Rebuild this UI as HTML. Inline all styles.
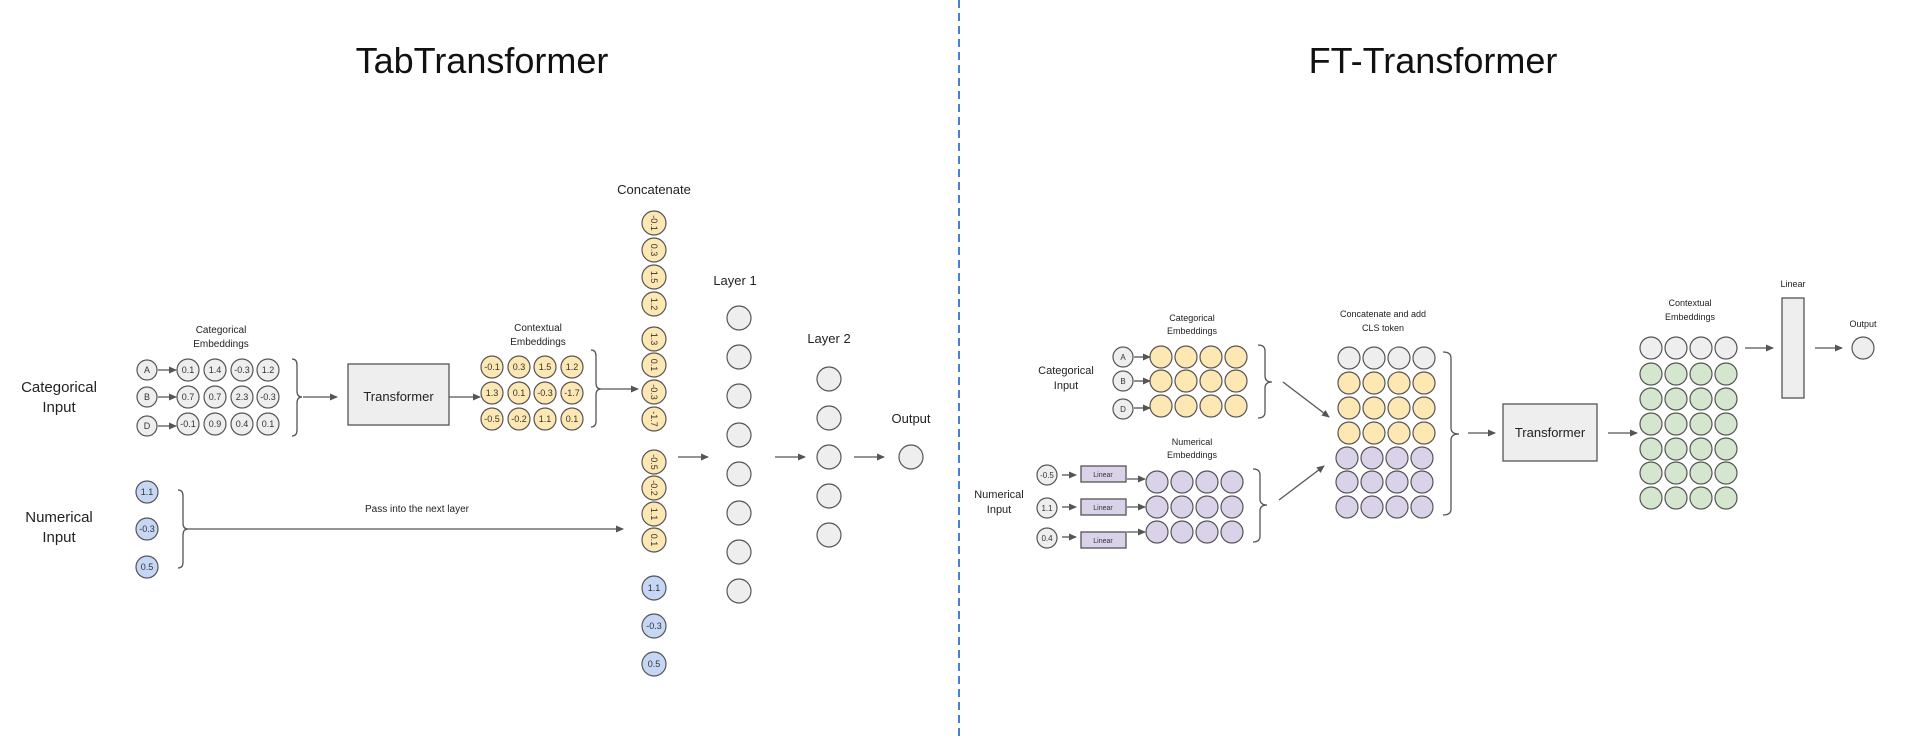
<!DOCTYPE html>
<html><head><meta charset="utf-8"><style>
html,body{margin:0;padding:0;background:#fff;}
svg{display:block;font-family:"Liberation Sans",sans-serif;}
</style></head><body>
<svg width="1916" height="738" viewBox="0 0 1916 738" xmlns="http://www.w3.org/2000/svg">
<defs>
<marker id="ah" markerWidth="8" markerHeight="8" refX="7" refY="4" orient="auto" markerUnits="userSpaceOnUse">
<path d="M0,0.5 L8,4 L0,7.5 z" fill="#555"/></marker>
</defs>
<g fill="#111" text-anchor="middle">
<text x="482" y="73" font-size="36">TabTransformer</text>
<text x="1433" y="73" font-size="36">FT-Transformer</text>
</g>
<line x1="959" y1="0" x2="959" y2="738" stroke="#4a7fd6" stroke-width="2" stroke-dasharray="8,5"/>

<g stroke="#555" stroke-width="1.3" fill="none">
<path d="M292,359 Q297,359 297,365 L297,391 Q297,397 302,397 Q297,397 297,403 L297,430 Q297,436 292,436"/>
<path d="M591,350 Q596,350 596,356 L596,383 Q596,389 601,389 Q596,389 596,395 L596,421 Q596,427 591,427"/>
<path d="M178,490 Q183,490 183,496 L183,523 Q183,529 188,529 Q183,529 183,535 L183,562 Q183,568 178,568"/>
<path d="M1258,345 Q1265,345 1265,351 L1265,376 Q1265,382 1272,382 Q1265,382 1265,388 L1265,412 Q1265,418 1258,418"/>
<path d="M1253,469 Q1260,469 1260,475 L1260,499 Q1260,505 1267,505 Q1260,505 1260,511 L1260,536 Q1260,542 1253,542"/>
<path d="M1443,352 Q1451,352 1451,358 L1451,428 Q1451,434 1459,434 Q1451,434 1451,440 L1451,509 Q1451,515 1443,515"/>
</g>

<g stroke="#555" stroke-width="1.3" marker-end="url(#ah)">
<line x1="158" y1="370" x2="176" y2="370"/>
<line x1="158" y1="397" x2="176" y2="397"/>
<line x1="158" y1="426" x2="176" y2="426"/>
<line x1="303" y1="397" x2="337" y2="397"/>
<line x1="449" y1="397" x2="480" y2="397"/>
<line x1="601" y1="389" x2="638" y2="389"/>
<line x1="188" y1="529" x2="623" y2="529"/>
<line x1="678" y1="457" x2="708" y2="457"/>
<line x1="775" y1="457" x2="805" y2="457"/>
<line x1="854" y1="457" x2="884" y2="457"/>
<line x1="1134" y1="357" x2="1150" y2="357"/>
<line x1="1134" y1="381" x2="1150" y2="381"/>
<line x1="1134" y1="408" x2="1150" y2="408"/>
<line x1="1283" y1="382" x2="1329" y2="417"/>
<line x1="1279" y1="500" x2="1324" y2="466"/>
<line x1="1062" y1="475" x2="1076" y2="475"/>
<line x1="1062" y1="507" x2="1076" y2="507"/>
<line x1="1062" y1="537" x2="1076" y2="537"/>
<line x1="1127" y1="479" x2="1145" y2="479"/>
<line x1="1127" y1="507" x2="1145" y2="507"/>
<line x1="1127" y1="532" x2="1145" y2="532"/>
<line x1="1468" y1="433" x2="1495" y2="433"/>
<line x1="1608" y1="433" x2="1637" y2="433"/>
<line x1="1745" y1="348" x2="1773" y2="348"/>
<line x1="1815" y1="348" x2="1842" y2="348"/>
</g>

<!-- boxes -->
<rect x="348" y="364" width="101" height="61" fill="#eeeeee" stroke="#555" stroke-width="1.3"/>
<rect x="1503" y="404" width="94" height="57" fill="#eeeeee" stroke="#555" stroke-width="1.3"/>
<rect x="1782" y="298" width="22" height="100" fill="#eeeeee" stroke="#555" stroke-width="1.3"/>
<g fill="#d9d2e9" stroke="#555" stroke-width="1.3">
<rect x="1081" y="466" width="45" height="16"/>
<rect x="1081" y="499" width="45" height="16"/>
<rect x="1081" y="532" width="45" height="16"/>
</g>

<g fill="#222" text-anchor="middle">
<text x="59" y="392" font-size="15">Categorical</text>
<text x="59" y="412" font-size="15">Input</text>
<text x="59" y="522" font-size="15">Numerical</text>
<text x="59" y="542" font-size="15">Input</text>
<text x="221" y="333" font-size="10">Categorical</text>
<text x="221" y="347" font-size="10">Embeddings</text>
<text x="538" y="331" font-size="10">Contextual</text>
<text x="538" y="345" font-size="10">Embeddings</text>
<text x="417" y="512" font-size="10">Pass into the next layer</text>
<text x="654" y="194" font-size="13">Concatenate</text>
<text x="735" y="285" font-size="13">Layer 1</text>
<text x="829" y="343" font-size="13">Layer 2</text>
<text x="911" y="423" font-size="13">Output</text>
<text x="398.5" y="401" font-size="13">Transformer</text>
<text x="1550" y="437" font-size="13">Transformer</text>

<text x="1066" y="374" font-size="11">Categorical</text>
<text x="1066" y="389" font-size="11">Input</text>
<text x="999" y="498" font-size="11">Numerical</text>
<text x="999" y="513" font-size="11">Input</text>
<text x="1192" y="321" font-size="9">Categorical</text>
<text x="1192" y="334" font-size="9">Embeddings</text>
<text x="1192" y="445" font-size="9">Numerical</text>
<text x="1192" y="458" font-size="9">Embeddings</text>
<text x="1383" y="317" font-size="9">Concatenate and add</text>
<text x="1383" y="331" font-size="9">CLS token</text>
<text x="1690" y="306" font-size="9">Contextual</text>
<text x="1690" y="320" font-size="9">Embeddings</text>
<text x="1793" y="287" font-size="9">Linear</text>
<text x="1863" y="327" font-size="9">Output</text>
</g>
<g fill="#333" font-size="7" text-anchor="middle">
<text x="1103" y="477">Linear</text><text x="1103" y="510">Linear</text><text x="1103" y="543">Linear</text>
</g>

<g stroke="#555" stroke-width="1.2">
<g fill="#eeeeee">
<circle cx="147" cy="370" r="10"/><circle cx="147" cy="397" r="10"/><circle cx="147" cy="426" r="10"/>
<circle cx="188" cy="370" r="11"/><circle cx="215" cy="370" r="11"/><circle cx="242" cy="370" r="11"/><circle cx="268" cy="370" r="11"/>
<circle cx="188" cy="397" r="11"/><circle cx="215" cy="397" r="11"/><circle cx="242" cy="397" r="11"/><circle cx="268" cy="397" r="11"/>
<circle cx="188" cy="424" r="11"/><circle cx="215" cy="424" r="11"/><circle cx="242" cy="424" r="11"/><circle cx="268" cy="424" r="11"/>
<circle cx="739" cy="318" r="12"/><circle cx="739" cy="357" r="12"/><circle cx="739" cy="396" r="12"/><circle cx="739" cy="435" r="12"/>
<circle cx="739" cy="474" r="12"/><circle cx="739" cy="513" r="12"/><circle cx="739" cy="552" r="12"/><circle cx="739" cy="591" r="12"/>
<circle cx="829" cy="379" r="12"/><circle cx="829" cy="418" r="12"/><circle cx="829" cy="457" r="12"/><circle cx="829" cy="496" r="12"/><circle cx="829" cy="535" r="12"/>
<circle cx="911" cy="457" r="12"/>
</g>
<g fill="#fde8b3">
<circle cx="492" cy="367" r="11"/><circle cx="519" cy="367" r="11"/><circle cx="545" cy="367" r="11"/><circle cx="572" cy="367" r="11"/>
<circle cx="492" cy="393" r="11"/><circle cx="519" cy="393" r="11"/><circle cx="545" cy="393" r="11"/><circle cx="572" cy="393" r="11"/>
<circle cx="492" cy="419" r="11"/><circle cx="519" cy="419" r="11"/><circle cx="545" cy="419" r="11"/><circle cx="572" cy="419" r="11"/>
<circle cx="654" cy="223" r="12"/><circle cx="654" cy="250" r="12"/><circle cx="654" cy="277" r="12"/><circle cx="654" cy="304" r="12"/>
<circle cx="654" cy="339" r="12"/><circle cx="654" cy="365" r="12"/><circle cx="654" cy="392" r="12"/><circle cx="654" cy="419" r="12"/>
<circle cx="654" cy="462" r="12"/><circle cx="654" cy="488" r="12"/><circle cx="654" cy="514" r="12"/><circle cx="654" cy="540" r="12"/>
</g>
<g fill="#c5d7f5">
<circle cx="147" cy="492" r="11"/><circle cx="147" cy="529" r="11"/><circle cx="147" cy="567" r="11"/>
<circle cx="654" cy="588" r="12"/><circle cx="654" cy="626" r="12"/><circle cx="654" cy="664" r="12"/>
</g>
</g>
<g fill="#333" font-size="9" text-anchor="middle">
<text x="147" y="373">A</text><text x="147" y="400">B</text><text x="147" y="429">D</text>
<text x="188" y="373">0.1</text><text x="215" y="373">1.4</text><text x="242" y="373">-0.3</text><text x="268" y="373">1.2</text>
<text x="188" y="400">0.7</text><text x="215" y="400">0.7</text><text x="242" y="400">2.3</text><text x="268" y="400">-0.3</text>
<text x="188" y="427">-0.1</text><text x="215" y="427">0.9</text><text x="242" y="427">0.4</text><text x="268" y="427">0.1</text>
<text x="492" y="370">-0.1</text><text x="519" y="370">0.3</text><text x="545" y="370">1.5</text><text x="572" y="370">1.2</text>
<text x="492" y="396">1.3</text><text x="519" y="396">0.1</text><text x="545" y="396">-0.3</text><text x="572" y="396">-1.7</text>
<text x="492" y="422">-0.5</text><text x="519" y="422">-0.2</text><text x="545" y="422">1.1</text><text x="572" y="422">0.1</text>
<text x="147" y="495">1.1</text><text x="147" y="532">-0.3</text><text x="147" y="570">0.5</text>
<text x="654" y="591">1.1</text><text x="654" y="629">-0.3</text><text x="654" y="667">0.5</text>
<text transform="translate(651,223) rotate(90)">-0.1</text>
<text transform="translate(651,250) rotate(90)">0.3</text>
<text transform="translate(651,277) rotate(90)">1.5</text>
<text transform="translate(651,304) rotate(90)">1.2</text>
<text transform="translate(651,339) rotate(90)">1.3</text>
<text transform="translate(651,365) rotate(90)">0.1</text>
<text transform="translate(651,392) rotate(90)">-0.3</text>
<text transform="translate(651,419) rotate(90)">-1.7</text>
<text transform="translate(651,462) rotate(90)">-0.5</text>
<text transform="translate(651,488) rotate(90)">-0.2</text>
<text transform="translate(651,514) rotate(90)">1.1</text>
<text transform="translate(651,540) rotate(90)">0.1</text>
</g>

<g stroke="#555" stroke-width="1.2">
<g fill="#eeeeee">
<circle cx="1123" cy="357" r="10"/><circle cx="1123" cy="381" r="10"/><circle cx="1123" cy="409" r="10"/>
<circle cx="1047" cy="475" r="10"/><circle cx="1047" cy="508" r="10"/><circle cx="1047" cy="538" r="10"/>
<circle cx="1349" cy="358" r="11"/><circle cx="1374" cy="358" r="11"/><circle cx="1399" cy="358" r="11"/><circle cx="1424" cy="358" r="11"/>
<circle cx="1651" cy="348" r="11"/><circle cx="1676" cy="348" r="11"/><circle cx="1701" cy="348" r="11"/><circle cx="1726" cy="348" r="11"/>
<circle cx="1863" cy="348" r="11"/>
</g>
<g fill="#fde8b3">
<circle cx="1161" cy="357" r="11"/><circle cx="1186" cy="357" r="11"/><circle cx="1211" cy="357" r="11"/><circle cx="1236" cy="357" r="11"/>
<circle cx="1161" cy="381" r="11"/><circle cx="1186" cy="381" r="11"/><circle cx="1211" cy="381" r="11"/><circle cx="1236" cy="381" r="11"/>
<circle cx="1161" cy="406" r="11"/><circle cx="1186" cy="406" r="11"/><circle cx="1211" cy="406" r="11"/><circle cx="1236" cy="406" r="11"/>
<circle cx="1349" cy="383" r="11"/><circle cx="1374" cy="383" r="11"/><circle cx="1399" cy="383" r="11"/><circle cx="1424" cy="383" r="11"/>
<circle cx="1349" cy="408" r="11"/><circle cx="1374" cy="408" r="11"/><circle cx="1399" cy="408" r="11"/><circle cx="1424" cy="408" r="11"/>
<circle cx="1349" cy="433" r="11"/><circle cx="1374" cy="433" r="11"/><circle cx="1399" cy="433" r="11"/><circle cx="1424" cy="433" r="11"/>
</g>
<g fill="#d9d2e9">
<circle cx="1157" cy="482" r="11"/><circle cx="1182" cy="482" r="11"/><circle cx="1207" cy="482" r="11"/><circle cx="1232" cy="482" r="11"/>
<circle cx="1157" cy="507" r="11"/><circle cx="1182" cy="507" r="11"/><circle cx="1207" cy="507" r="11"/><circle cx="1232" cy="507" r="11"/>
<circle cx="1157" cy="532" r="11"/><circle cx="1182" cy="532" r="11"/><circle cx="1207" cy="532" r="11"/><circle cx="1232" cy="532" r="11"/>
<circle cx="1347" cy="458" r="11"/><circle cx="1372" cy="458" r="11"/><circle cx="1397" cy="458" r="11"/><circle cx="1422" cy="458" r="11"/>
<circle cx="1347" cy="482" r="11"/><circle cx="1372" cy="482" r="11"/><circle cx="1397" cy="482" r="11"/><circle cx="1422" cy="482" r="11"/>
<circle cx="1347" cy="507" r="11"/><circle cx="1372" cy="507" r="11"/><circle cx="1397" cy="507" r="11"/><circle cx="1422" cy="507" r="11"/>
</g>
<g fill="#d5e6ce">
<circle cx="1651" cy="374" r="11"/><circle cx="1676" cy="374" r="11"/><circle cx="1701" cy="374" r="11"/><circle cx="1726" cy="374" r="11"/>
<circle cx="1651" cy="399" r="11"/><circle cx="1676" cy="399" r="11"/><circle cx="1701" cy="399" r="11"/><circle cx="1726" cy="399" r="11"/>
<circle cx="1651" cy="424" r="11"/><circle cx="1676" cy="424" r="11"/><circle cx="1701" cy="424" r="11"/><circle cx="1726" cy="424" r="11"/>
<circle cx="1651" cy="449" r="11"/><circle cx="1676" cy="449" r="11"/><circle cx="1701" cy="449" r="11"/><circle cx="1726" cy="449" r="11"/>
<circle cx="1651" cy="473" r="11"/><circle cx="1676" cy="473" r="11"/><circle cx="1701" cy="473" r="11"/><circle cx="1726" cy="473" r="11"/>
<circle cx="1651" cy="498" r="11"/><circle cx="1676" cy="498" r="11"/><circle cx="1701" cy="498" r="11"/><circle cx="1726" cy="498" r="11"/>
</g>
</g>
<g fill="#333" font-size="8" text-anchor="middle">
<text x="1123" y="360">A</text><text x="1123" y="384">B</text><text x="1123" y="412">D</text>
<text x="1047" y="478">-0.5</text><text x="1047" y="511">1.1</text><text x="1047" y="541">0.4</text>
</g>
</svg>
</body></html>
